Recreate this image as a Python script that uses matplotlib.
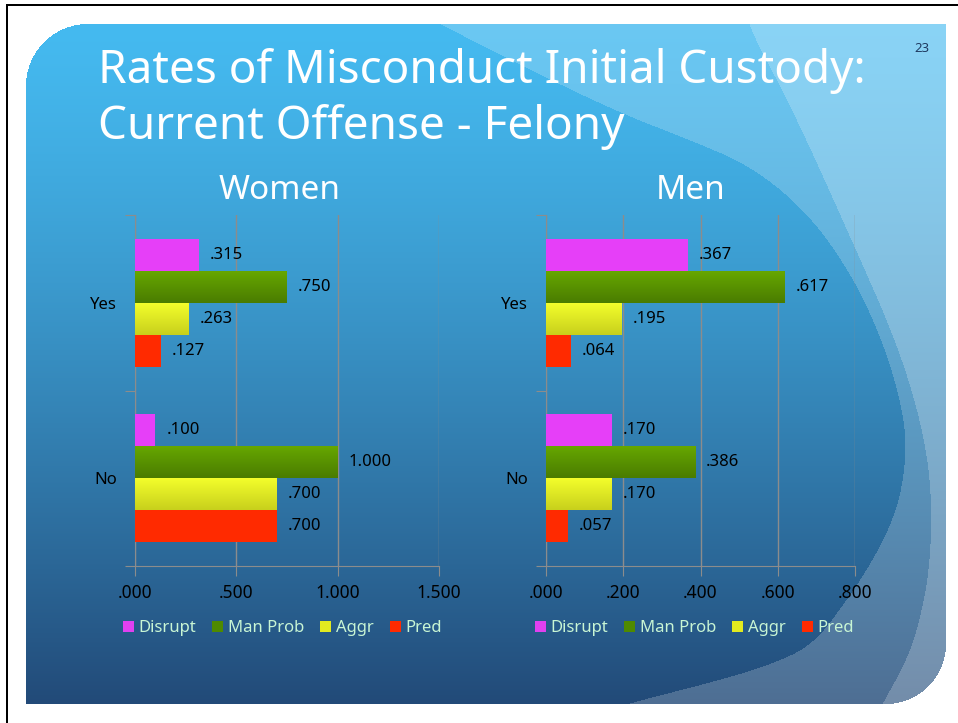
import numpy as np
import matplotlib
matplotlib.use("Agg")
import matplotlib.pyplot as plt
from matplotlib.path import Path
from matplotlib.patches import Patch
from matplotlib.colors import LinearSegmentedColormap

plt.rcParams['font.family'] = ['Noto Sans', 'DejaVu Sans']

W, H = 958, 723

# data (order of series: Disrupt, Man Prob, Aggr, Pred)
series = ['Disrupt', 'Man Prob', 'Aggr', 'Pred']
groups = ['No', 'Yes']
women_yes = [0.315, 0.750, 0.263, 0.127]
women_no = [0.100, 1.000, 0.700, 0.700]
men_yes = [0.367, 0.617, 0.195, 0.064]
men_no = [0.170, 0.386, 0.170, 0.057]
women_ticks = [0.0, 0.5, 1.0, 1.5]
men_ticks = [0.0, 0.2, 0.4, 0.6, 0.8]

title_1 = 'Rates of Misconduct Initial Custody:'
title_2 = 'Current Offense - Felony'

flat = ['#e63ff8', '#5a9600', '#e8f020', '#ff2a00']
grad_top = {1: '#67a800', 2: '#f4ff2c'}
grad_bot = {1: '#4a7c00', 2: '#c8d01c'}


def fmt(v):
    s = '%.3f' % v
    return s[1:] if s.startswith('0') else s


def chaikin(pts, n=3):
    pts = np.asarray(pts, float)
    for _ in range(n):
        q = 0.75 * pts[:-1] + 0.25 * pts[1:]
        r = 0.25 * pts[:-1] + 0.75 * pts[1:]
        new = np.empty((len(q) * 2, 2))
        new[0::2] = q
        new[1::2] = r
        pts = np.vstack([pts[:1], new, pts[-1:]])
    return pts


def make_background():
    yy, xx = np.mgrid[0:H, 0:W] + 0.5
    t = np.clip((yy - 24) / (704 - 24), 0, 1) ** 1.3
    top = np.array([0x45, 0xba, 0xf0]) / 255.0
    bot = np.array([0x22, 0x4a, 0x78]) / 255.0
    img = top * (1 - t[..., None]) + bot * t[..., None]

    pix = np.column_stack([xx.ravel(), yy.ravel()])
    d_curve = chaikin([(440, 24), (530, 70), (620, 113), (690, 140), (753, 167),
                       (810, 215), (853, 277), (880, 335), (898, 390), (907, 440),
                       (902, 490), (890, 527), (870, 565), (847, 600), (813, 645),
                       (770, 665), (713, 682), (630, 703), (590, 716)])
    d_poly = np.vstack([[(400, -10)], d_curve, [(560, 740), (980, 740), (980, -10)]])
    l_curve = chaikin([(745, 0), (747, 24), (793, 110), (853, 243), (897, 343),
                       (922, 425), (932, 493), (930, 567), (920, 620),
                       (907, 660), (883, 703), (872, 725)])
    l_poly = np.vstack([l_curve, [(980, 740), (980, -10)]])
    for poly, a in [(d_poly, 0.2), (l_poly, 0.21)]:
        m = Path(poly).contains_points(pix).reshape(H, W)
        img[m] = img[m] * (1 - a) + a

    # panel with two rounded corners
    x0, x1, y0, y1 = 26, 946, 24, 704
    inside = (xx >= x0) & (xx <= x1) & (yy >= y0) & (yy <= y1)
    r1, r2 = 62, 60
    c1 = (xx < x0 + r1) & (yy < y0 + r1) & ((xx - x0 - r1) ** 2 + (yy - y0 - r1) ** 2 > r1 ** 2)
    c2 = (xx > x1 - r2) & (yy > y1 - r2) & ((xx - x1 + r2) ** 2 + (yy - y1 + r2) ** 2 > r2 ** 2)
    inside &= ~c1 & ~c2
    img[~inside] = 1.0
    # screenshot frame
    img[4:6, 6:] = 0.0
    img[4:, 6:8] = 0.0
    return img


fig = plt.figure(figsize=(W / 100, H / 100), dpi=100)
bg = fig.add_axes([0, 0, 1, 1])
bg.imshow(make_background(), extent=(0, W, H, 0), interpolation='bilinear')
bg.set_xlim(0, W)
bg.set_ylim(H, 0)
bg.axis('off')


def fx(x):
    return x / W


def fy(y):
    return 1 - y / H


fig.text(fx(98), fy(83), title_1, color='white', fontsize=33, va='baseline')
fig.text(fx(98), fy(139), title_2, color='white', fontsize=33, va='baseline')
fig.text(fx(280), fy(199), 'Women', color='white', fontsize=24, ha='center', va='baseline')
fig.text(fx(691), fy(199), 'Men', color='white', fontsize=24, ha='center', va='baseline')
fig.text(fx(922), fy(52), '23', color='#1f3a60', fontsize=9.5, ha='center', va='baseline')


def draw_chart(left, right, yes, no, ticks, legend_x):
    ax = fig.add_axes([fx(left), fy(566), (right - left) / W, (566 - 215) / H])
    ax.patch.set_alpha(0)
    h = 0.183
    for i, name in enumerate(series):
        off = (1.5 - i) * h
        vals = [no[i], yes[i]]
        pos = [0 + off, 1 + off]
        bars = ax.barh(pos, vals, height=h, color=flat[i], linewidth=0, zorder=3)
        if i in grad_top:
            cmap = LinearSegmentedColormap.from_list('g', [grad_bot[i], grad_top[i]])
            g = np.linspace(0, 1, 64).reshape(-1, 1)
            for b in bars:
                im = ax.imshow(g, extent=[b.get_x(), b.get_x() + b.get_width(),
                                          b.get_y(), b.get_y() + b.get_height()],
                               origin='lower', cmap=cmap, aspect='auto', zorder=3.5)
                im.set_clip_path(b)
        for v, p in zip(vals, pos):
            ax.annotate(fmt(v), xy=(v, p), xytext=(8, 0), textcoords='offset points',
                        va='center', ha='left', fontsize=12, color='black', zorder=5)
    ax.set_xlim(ticks[0], ticks[-1])
    ax.set_ylim(-0.5, 1.5)
    ax.set_xticks(ticks, [fmt(t) for t in ticks])
    ax.set_yticks([-0.5, 0.5, 1.5], [])
    ax.set_yticks([0, 1], groups, minor=True)
    ax.tick_params(axis='both', which='major', direction='out', length=7,
                   color='#8c8c8c', labelsize=12.5, labelcolor='black')
    ax.tick_params(axis='x', pad=6)
    ax.tick_params(axis='y', which='minor', length=0, pad=13, labelsize=12)
    ax.grid(axis='x', color='#8c8c8c', linewidth=1)
    ax.set_axisbelow(True)
    for s in ['top', 'right']:
        ax.spines[s].set_visible(False)
    for s in ['left', 'bottom']:
        ax.spines[s].set_color('#8c8c8c')
    handles = [Patch(facecolor=c, edgecolor='none') for c in
               ['#e040f0', '#4f8a00', '#e2ea20', '#ff2a00']]
    fig.legend(handles, series, loc='center', bbox_to_anchor=(fx(legend_x), fy(628)),
               ncol=4, frameon=False, fontsize=12, handlelength=0.65, handleheight=0.65,
               handletextpad=0.3, columnspacing=0.95, labelcolor='#c8f5d4',
               borderpad=0, borderaxespad=0)
    return ax


draw_chart(135, 439, women_yes, women_no, women_ticks, 282.5)
draw_chart(546, 855, men_yes, men_no, men_ticks, 694.5)

fig.savefig('out.png', dpi=100)
